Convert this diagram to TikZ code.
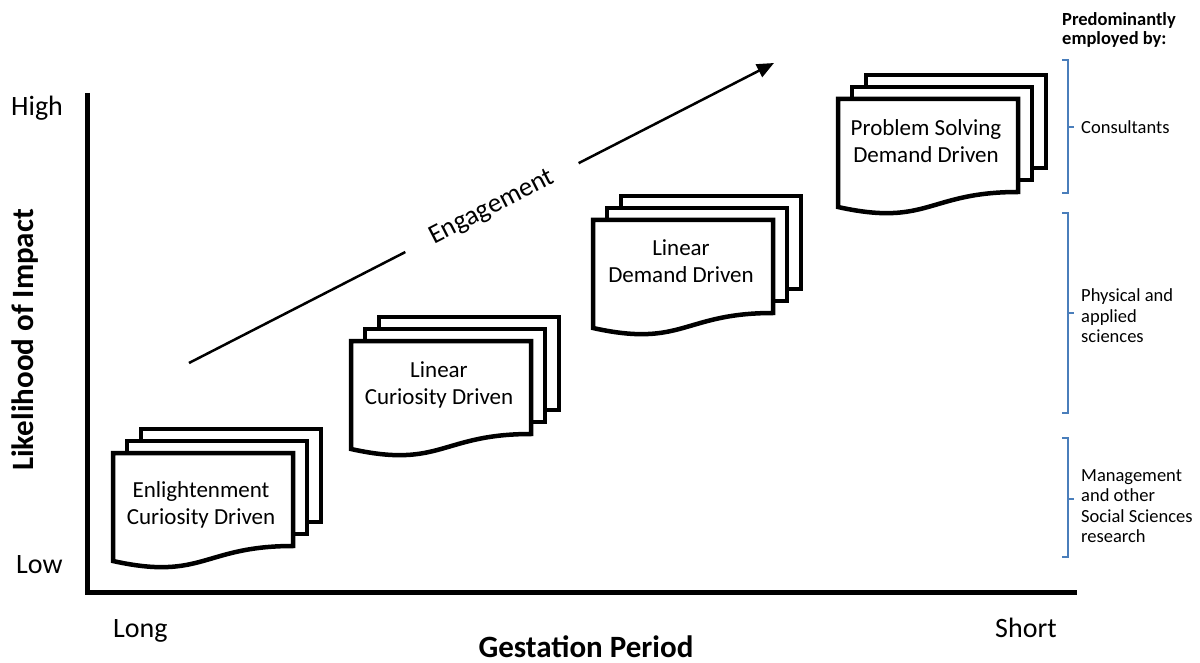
\documentclass[tikz,border=0pt]{standalone}
\usepackage{fontspec}
\setmainfont{Carlito}
\usetikzlibrary{arrows.meta}
\definecolor{brk}{HTML}{4A7EBB}
\tikzset{
  page/.style={draw=black, fill=white, line width=4.5pt, line join=miter},
  doclabel/.style={align=center, font=\fontsize{23}{27}\selectfont, inner sep=0pt},
  axisline/.style={line width=5pt},
  ticklabel/.style={font=\fontsize{28}{34}\selectfont, inner sep=0pt},
  axistitle/.style={font=\bfseries\fontsize{31}{37}\selectfont, inner sep=0pt},
  bracketline/.style={draw=brk, line width=2pt},
  sidelabel/.style={align=left, font=\fontsize{18.5}{20.5}\selectfont, inner sep=0pt, anchor=west},
  engline/.style={line width=2.5pt},
}
% a stack of three pages; the front one has a wavy lower edge
% #1 name, #2 x, #3 y (front top-left), #4 text centre below top, #5 text
\newcommand\docstack[5]{%
  \begin{scope}[shift={(#2,#3)}]
    \draw[page] (28,-24) rectangle (208,69);
    \draw[page] (14,-12) rectangle (194,81);
    \draw[page] (0,0) -- (180,0) -- (180,93)
      .. controls (90,93) and (90,128) .. (0,108) -- cycle;
    \node[doclabel] (#1) at (88,#4) {#5};
  \end{scope}}
% right-hand brace: #1 top, #2 bottom, #3 tick
\newcommand\sidebrace[3]{%
  \draw[bracketline] (1062,#1) -- (1068,#1) -- (1068,#2) -- (1062,#2);
  \draw[bracketline] (1068,#3) -- (1074,#3);}
\begin{document}
\begin{tikzpicture}[x=1pt,y=-1pt]
  \useasboundingbox (0,0) rectangle (1200,663);

  % axes
  \coordinate (ytop) at (87,93);
  \coordinate (origin) at (87,592.5);
  \coordinate (xend) at (1077,592.5);
  \draw[axisline] (ytop) -- (origin) -- (xend);

  \node[ticklabel, anchor=base west] (high) at (11,116) {High};
  \node[ticklabel, anchor=base west] (low) at (16,573) {Low};
  \node[ticklabel, anchor=base west] (long) at (113,637) {Long};
  \node[ticklabel, anchor=base west] (short) at (995,637) {Short};
  \node[axistitle, anchor=base] (xtitle) at (586,657) {Gestation Period};
  \node[axistitle, anchor=base, rotate=90] (ytitle) at (33,340) {Likelihood of Impact};

  % engagement arrow
  \coordinate (engstart) at (189,363);
  \coordinate (engtip) at (774,63);
  \node[font=\fontsize{27}{32}\selectfont, rotate=27.15, inner xsep=29pt, inner ysep=0pt]
    (engage) at (492,207.6) {Engagement};
  \draw[engline] (engstart) -- (engage.west);
  \draw[engline, -{Triangle[length=17pt,width=14pt]}] (engage.east) -- (engtip);

  % page stacks
  \docstack{enl}{113}{453}{52}{Enlightenment\\Curiosity Driven}
  \docstack{lincur}{351}{341}{44}{Linear\\Curiosity Driven}
  \docstack{lindem}{593}{220}{41}{Linear\\Demand Driven}
  \docstack{probsol}{838}{99}{42}{Problem Solving\\Demand Driven}

  % who employs each mode
  \node[sidelabel, font=\bfseries\fontsize{18.5}{19.5}\selectfont] (emp) at (1062,30)
    {Predominantly\\employed by:};
  \sidebrace{60}{193}{127}
  \node[sidelabel] (cons) at (1081,127) {Consultants};
  \sidebrace{213}{413}{313}
  \node[sidelabel] (phys) at (1081,316) {Physical and\\applied\\sciences};
  \sidebrace{438}{557}{499}
  \node[sidelabel] (mgmt) at (1081,506) {Management\\and other\\Social Sciences\\research};
\end{tikzpicture}
\end{document}
